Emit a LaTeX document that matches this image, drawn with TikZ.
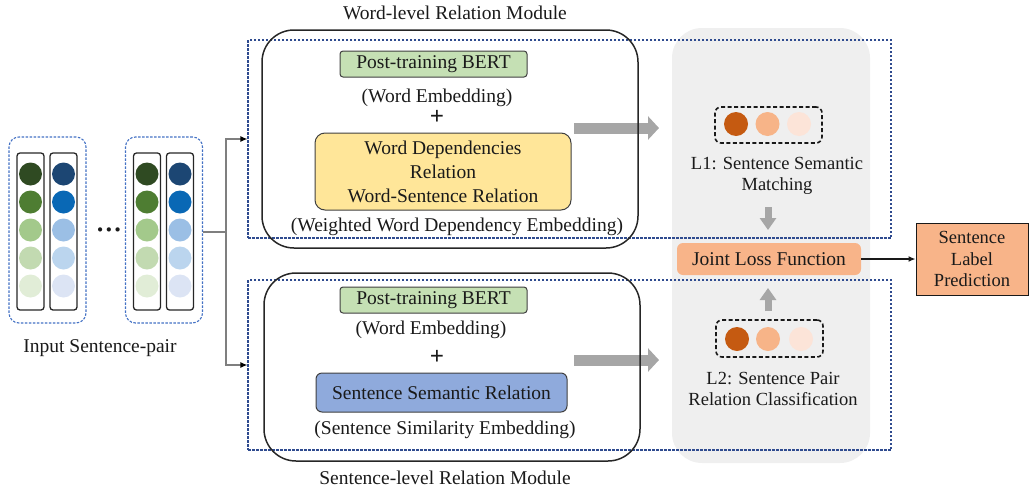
\documentclass[tikz,border=0pt]{standalone}
\usepackage{fontspec}
\setmainfont{Liberation Serif}
\usetikzlibrary{arrows.meta}
\definecolor{txt}{HTML}{1A1A1A}
\definecolor{gA}{HTML}{2F4A22}
\definecolor{gB}{HTML}{4E7D32}
\definecolor{gC}{HTML}{A3C98B}
\definecolor{gD}{HTML}{C2DAB1}
\definecolor{gE}{HTML}{E1EDD7}
\definecolor{bA}{HTML}{1C4673}
\definecolor{bB}{HTML}{0968B5}
\definecolor{bC}{HTML}{9BBFE5}
\definecolor{bD}{HTML}{BBD5EE}
\definecolor{bE}{HTML}{DCE4F4}
\definecolor{oA}{HTML}{C55A11}
\definecolor{oB}{HTML}{F7B488}
\definecolor{oC}{HTML}{FCE4D8}
\definecolor{bertgreen}{HTML}{C5E0B4}
\definecolor{yel}{HTML}{FFE699}
\definecolor{semblue}{HTML}{8FAADC}
\definecolor{orangebox}{HTML}{F8B489}
\definecolor{panel}{HTML}{EFEFEF}
\definecolor{dashblue}{HTML}{2F4B8F}
\definecolor{grpblue}{HTML}{4472C4}
\definecolor{blockgray}{HTML}{A6A6A6}
\definecolor{conngray}{HTML}{7F7F7F}
\tikzset{
  lbl/.style={font=\fontsize{19.5}{22}\selectfont, text=txt, inner sep=0pt, align=center},
  plusmark/.style={font=\fontsize{25}{25}\selectfont\bfseries, text=txt, inner sep=0pt},
  grpbox/.style={draw=grpblue, line width=1.1pt, dash pattern=on 2.5pt off 1.5pt, rounded corners=10pt, minimum width=77pt, minimum height=186pt, inner sep=0pt},
  colbox/.style={draw=black!85, line width=1.3pt, rounded corners=3pt, minimum width=27pt, minimum height=157pt, inner sep=0pt},
  dot/.style={circle, minimum size=23pt, inner sep=0pt},
  odot/.style={circle, minimum size=24pt, inner sep=0pt},
  moddash/.style={draw=dashblue, line width=1.2pt, dash pattern=on 2.5pt off 1.5pt, minimum width=643pt, inner sep=0pt},
  modbox/.style={draw=black!85, line width=1.5pt, rounded corners=32pt, minimum width=376pt, inner sep=0pt},
  bertbox/.style={lbl, draw=black!75, line width=1pt, fill=bertgreen, rounded corners=3pt, minimum width=187pt, minimum height=26pt},
  blockarrow/.style={draw=blockgray, line width=11pt, line cap=butt, -{Triangle[length=11pt, width=23pt, fill=blockgray]}},
  smallblock/.style={draw=blockgray, line width=7pt, line cap=butt, -{Triangle[length=12pt, width=16pt, fill=blockgray]}},
  lossdash/.style={draw=black!90, line width=1.6pt, dash pattern=on 4pt off 2.5pt, rounded corners=6pt, minimum width=107pt, minimum height=36pt, inner sep=0pt},
  conn/.style={draw=conngray, line width=1.2pt, -{Latex[length=7pt, width=6pt, black]}},
}
\begin{document}
\begin{tikzpicture}[x=1pt, y=-1pt]
\useasboundingbox (0,0) rectangle (1030,493);

% right grey panel
\node[fill=panel, rounded corners=30pt, minimum width=198pt, minimum height=435pt, inner sep=0pt] (panel) at (771,245.5) {};

% input sentence pairs
\foreach \gx/\gn in {47.5/1, 164/2} {
  \node[grpbox] (g\gn) at (\gx,230) {};
  \node[colbox] (g\gn a) at (\gx-17,231.5) {};
  \node[colbox] (g\gn b) at (\gx+16,231.5) {};
  \foreach \cy/\cg/\cb [count=\i] in {174/gA/bA, 202/gB/bB, 230/gC/bC, 258/gD/bD, 286/gE/bE} {
    \node[dot, fill=\cg] (g\gn a\i) at (\gx-17,\cy) {};
    \node[dot, fill=\cb] (g\gn b\i) at (\gx+16,\cy) {};
  }
}
\node[lbl, font=\fontsize{26}{26}\selectfont\bfseries] (dots) at (109,233) {···};
\node[lbl] (inlbl) at (100,348) {Input Sentence-pair};

% grey block arrows (under module borders)
\coordinate (wa1) at (574,128);
\coordinate (wa2) at (659,128);
\coordinate (sa1) at (574,360);
\coordinate (sa2) at (659,360);
\draw[blockarrow] (wa1) -- (wa2);
\draw[blockarrow] (sa1) -- (sa2);

% module dashed frames
\node[moddash, minimum height=198pt] (wdash) at (569.5,139) {};
\node[moddash, minimum height=170pt] (sdash) at (569.5,365) {};

% module rounded boxes
\node[modbox, minimum height=218pt] (wmod) at (450,139) {};
\node[modbox, minimum height=188pt] (smod) at (452,367) {};
\node[lbl] (wtitle) at (455,13) {Word-level Relation Module};
\node[lbl] (stitle) at (445,478) {Sentence-level Relation Module};

% connectors from input
\coordinate (split) at (226,232);
\draw[draw=conngray, line width=1.2pt] (g2.east |- split) -- (split);
\draw[conn] (split) |- (wdash.west);
\draw[conn] (split) |- (sdash.west);

% word-level contents
\node[bertbox] (bert1) at (433.5,64) {Post-training BERT};
\node[lbl] (we1) at (437,98) {(Word Embedding)};
\node[plusmark] (plus1) at (437,117) {+};
\node[lbl, draw=black!75, line width=1pt, fill=yel, rounded corners=10pt, minimum width=256pt, minimum height=77pt, font=\fontsize{19.5}{24}\selectfont] (wdep) at (443,171.5) {Word Dependencies\\Relation\\Word-Sentence Relation};
\node[lbl] (wwde) at (457,227) {(Weighted Word Dependency Embedding)};

% sentence-level contents
\node[bertbox] (bert2) at (433.5,300) {Post-training BERT};
\node[lbl] (we2) at (431,330) {(Word Embedding)};
\node[plusmark] (plus2) at (437,357) {+};
\node[lbl, draw=black!75, line width=1pt, fill=semblue, rounded corners=6pt, minimum width=251pt, minimum height=39pt] (ssr) at (441.5,392.5) {Sentence Semantic Relation};
\node[lbl] (sse) at (445,430) {(Sentence Similarity Embedding)};

% L1
\node[lossdash] (l1box) at (768.5,125) {};
\node[odot, fill=oA] (l1a) at (736,124) {};
\node[odot, fill=oB] (l1b) at (767.5,124) {};
\node[odot, fill=oC] (l1c) at (799,124) {};
\node[lbl, font=\fontsize{18.5}{21}\selectfont] (l1txt) at (777,175.5) {L1: Sentence Semantic\\Matching};

% joint loss
\node[lbl, fill=orangebox, rounded corners=6pt, minimum width=184pt, minimum height=32pt] (joint) at (769,259) {Joint Loss Function};

% L2
\node[lossdash, minimum height=37pt] (l2box) at (769.5,338.5) {};
\node[odot, fill=oA] (l2a) at (737,339) {};
\node[odot, fill=oB] (l2b) at (768,339) {};
\node[odot, fill=oC] (l2c) at (801,339) {};
\node[lbl, font=\fontsize{18.5}{21}\selectfont] (l2txt) at (773,388.5) {L2: Sentence Pair\\Relation Classification};

% small grey arrows
\coordinate (d1) at (768,207);
\coordinate (d2) at (768,230);
\coordinate (u1) at (768,311);
\coordinate (u2) at (768,288);
\draw[smallblock] (d1) -- (d2);
\draw[smallblock] (u1) -- (u2);

% output
\node[lbl, draw=black!90, line width=1pt, fill=orangebox, minimum width=112pt, minimum height=72pt, font=\fontsize{18.5}{21.5}\selectfont] (pred) at (972,259) {Sentence\\Label\\Prediction};
\draw[line width=1.3pt, draw=black!90, -{Latex[length=7pt, width=6pt]}] (joint.east) -- (pred.west);
\end{tikzpicture}
\end{document}
